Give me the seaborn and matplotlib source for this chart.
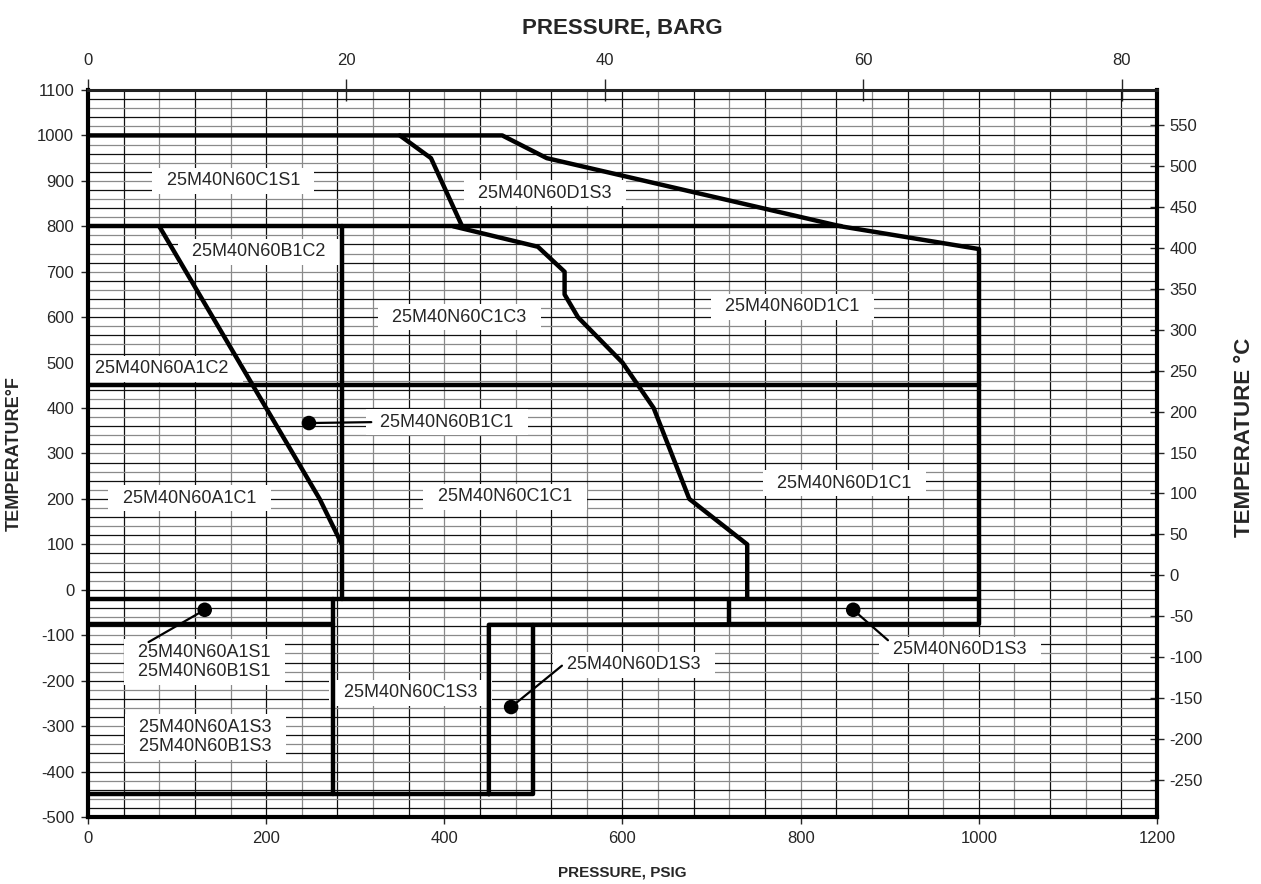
import numpy as np
import pandas as pd
import matplotlib
matplotlib.use("Agg")
import matplotlib.pyplot as plt
import seaborn as sns

# boundary lines, pressure in psig, temperature in degF
bnd_top_x = [0, 465, 515, 845, 1000]
bnd_top_y = [1000, 1000, 950, 800, 750]
bnd_s1_x = [350, 385, 420]
bnd_s1_y = [1000, 950, 800]
bnd_c3_x = [410, 505, 535, 535, 550, 600, 635, 675, 740, 740]
bnd_c3_y = [800, 755, 700, 650, 600, 500, 400, 200, 100, -20]
bnd_a1_x = [80, 140, 260, 285]
bnd_a1_y = [800, 600, 200, 100]
bnd_800_x = [0, 845]
bnd_800_y = [800, 800]
bnd_285_x = [285, 285]
bnd_285_y = [800, -20]
bnd_450_x = [0, 1000]
bnd_450_y = [450, 450]
bnd_1000_x = [1000, 1000, 720, 720]
bnd_1000_y = [750, -75, -75, -20]
bnd_m20_x = [0, 1000]
bnd_m20_y = [-20, -20]
bnd_m75_x = [0, 275]
bnd_m75_y = [-75, -75]
bnd_275_x = [275, 275]
bnd_275_y = [-20, -450]
bnd_m450_x = [0, 500, 500]
bnd_m450_y = [-450, -450, -77]
bnd_d1_x = [450, 450, 720]
bnd_d1_y = [-450, -77, -76]

bounds = [
    (bnd_top_x, bnd_top_y), (bnd_s1_x, bnd_s1_y), (bnd_c3_x, bnd_c3_y),
    (bnd_a1_x, bnd_a1_y), (bnd_800_x, bnd_800_y), (bnd_285_x, bnd_285_y),
    (bnd_450_x, bnd_450_y), (bnd_1000_x, bnd_1000_y), (bnd_m20_x, bnd_m20_y),
    (bnd_m75_x, bnd_m75_y), (bnd_275_x, bnd_275_y), (bnd_m450_x, bnd_m450_y),
    (bnd_d1_x, bnd_d1_y),
]

# region labels
lab_text = ['25M40N60C1S1', '25M40N60D1S3', '25M40N60B1C2', '25M40N60C1C3',
            '25M40N60D1C1', '25M40N60A1C2', '25M40N60B1C1', '25M40N60A1C1',
            '25M40N60C1C1', '25M40N60D1C1', '25M40N60A1S1\n25M40N60B1S1',
            '25M40N60C1S3', '25M40N60A1S3\n25M40N60B1S3', '25M40N60D1S3',
            '25M40N60D1S3']
lab_x = [163, 513, 192, 417, 791, 83, 403, 114, 468, 849, 131, 362, 132, 613, 979]
lab_y = [900, 873, 744, 600, 623, 486, 369, 202, 205, 235, -159, -227, -324, -165, -132]

# leader dots and leader line ends
dot_x = [248, 131, 475, 859]
dot_y = [367, -44, -258, -44]
lead_x = [318, 68, 532, 898]
lead_y = [369, -115, -167, -111]

rows = []
for i, (bx, by) in enumerate(bounds):
    for k in range(len(bx)):
        rows.append({'seg': i, 'k': k, 'psig': bx[k], 'degF': by[k]})
df = pd.DataFrame(rows)

lrows = []
for i in range(len(dot_x)):
    lrows.append({'seg': i, 'psig': dot_x[i], 'degF': dot_y[i]})
    lrows.append({'seg': i, 'psig': lead_x[i], 'degF': lead_y[i]})
dfl = pd.DataFrame(lrows)

sns.set_style('white')
plt.rcParams['font.family'] = ['Liberation Sans', 'DejaVu Sans']
plt.rcParams['axes.unicode_minus'] = False

fig = plt.figure(figsize=(12.61, 8.84), dpi=100)
ax = fig.add_axes([0.0698, 0.0758, 0.8477, 0.8224])

# chart paper grid
for j, gx in enumerate(np.arange(40, 1200, 40)):
    ax.axvline(gx, color='#111111' if j % 2 == 0 else '#8a8a8a', lw=0.9, zorder=1)
for j, gy in enumerate(np.arange(-480, 1100, 20)):
    ax.axhline(gy, color='#111111' if j % 2 == 0 else '#8a8a8a', lw=0.9, zorder=1)

sns.lineplot(data=df, x='psig', y='degF', units='seg', estimator=None, sort=False,
             color='black', lw=3.2, ax=ax, zorder=4)
sns.lineplot(data=dfl, x='psig', y='degF', units='seg', estimator=None, sort=False,
             color='black', lw=1.6, ax=ax, zorder=5)
sns.scatterplot(x=dot_x, y=dot_y, color='black', s=110, edgecolor='none', ax=ax, zorder=6)

for t, x, y in zip(lab_text, lab_x, lab_y):
    padded = '\n'.join('  ' + line + '  ' for line in t.split('\n'))
    ax.text(x, y, padded, fontsize=13, ha='center', va='center', zorder=3,
            bbox=dict(boxstyle='square,pad=0.25', facecolor='white', edgecolor='none'))

ax.set_xlim(0, 1200)
ax.set_ylim(-500, 1100)
ax.set_xticks(np.arange(0, 1201, 200))
ax.set_yticks(np.arange(-500, 1101, 100))
ax.tick_params(axis='both', labelsize=12, direction='out', length=5, width=1, pad=5,
               bottom=True, left=True)
ax.set_xlabel('PRESSURE, PSIG', fontsize=11, fontweight='bold', labelpad=14)
ax.set_ylabel('TEMPERATURE°F', fontsize=13, fontweight='bold', labelpad=10)
for s in ['left', 'bottom', 'right']:
    ax.spines[s].set_linewidth(3)
    ax.spines[s].set_color('black')
ax.spines['top'].set_linewidth(2.2)
ax.spines['top'].set_color('#222222')
for s in ax.spines.values():
    s.set_zorder(7)

top = ax.secondary_xaxis('top', functions=(lambda p: p / 14.5038, lambda b: b * 14.5038))
top.set_xticks(np.arange(0, 81, 20))
top.tick_params(labelsize=12, direction='inout', length=16, width=1, pad=8)
top.set_xlabel('PRESSURE, BARG', fontsize=16, fontweight='bold', labelpad=14)

right = ax.secondary_yaxis('right', functions=(lambda f: (f - 32) * 5 / 9, lambda c: c * 9 / 5 + 32))
right.set_yticks(np.arange(-250, 551, 50))
right.tick_params(labelsize=12, direction='inout', length=10, width=1, pad=4)
fig.text(0.987, 0.505, 'TEMPERATURE °C', fontsize=16, fontweight='bold',
         rotation=90, ha='center', va='center')

fig.savefig('out.png', dpi=100)
